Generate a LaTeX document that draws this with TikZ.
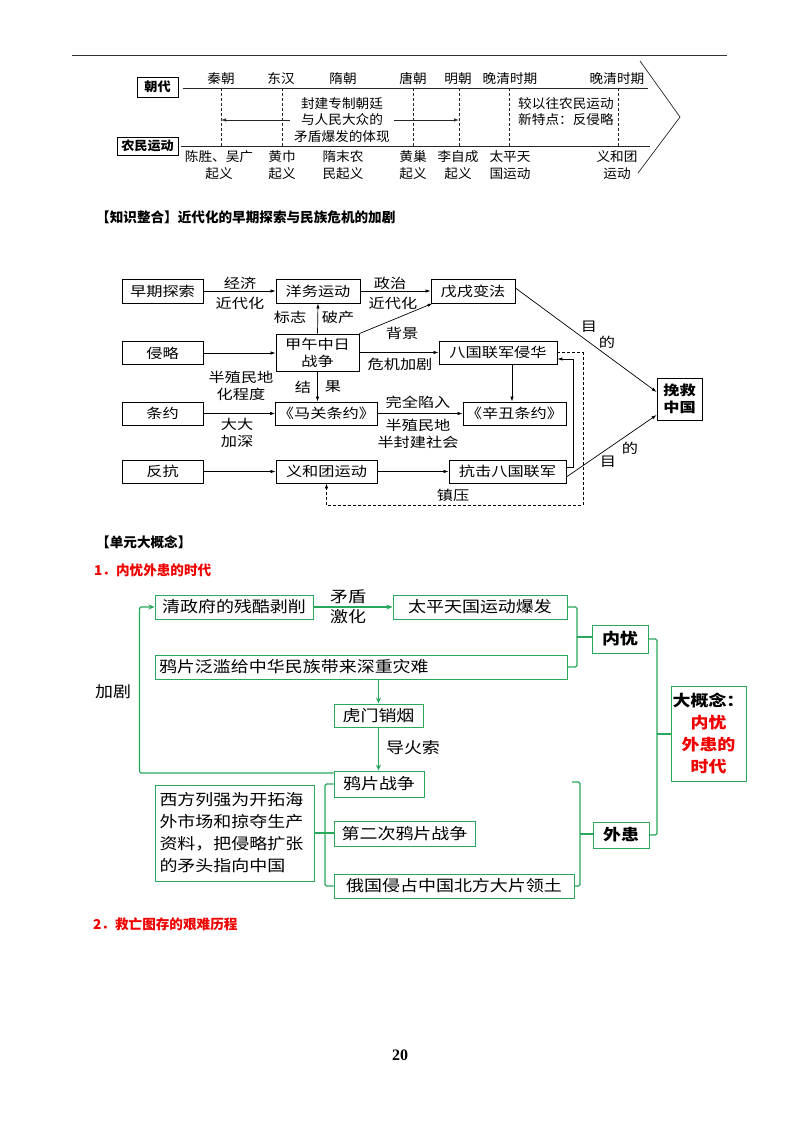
\documentclass[tikz,border=0pt]{standalone}
\usepackage{fontspec}
\setmainfont{Noto Sans CJK SC}
\newfontfamily\fa[FakeStretch=1.05]{Noto Sans CJK SC}
\newfontfamily\fb[FakeStretch=1.2]{Noto Sans CJK SC}
\newfontfamily\fc[FakeStretch=1.16]{Noto Sans CJK SC}
\newfontfamily\fnum{Liberation Serif}
\usetikzlibrary{arrows.meta,calc}
\definecolor{gr}{RGB}{40,168,90}
\definecolor{rd}{RGB}{240,0,0}
\begin{document}
\begin{tikzpicture}[x=1pt,y=-1pt,
  tl/.style={line width=0.7pt, black!85},
  dsh/.style={line width=0.6pt, black!85, dash pattern=on 3pt off 2pt},
  ta/.style={font=\fa\fontsize{13}{16.8}\selectfont, inner sep=0pt, align=center},
  tbox/.style={draw, line width=0.9pt, inner sep=0pt, font=\fa\bfseries\fontsize{12.5}{15}\selectfont},
  arrt/.style={-{Latex[length=5pt,width=3.4pt]}},
  mb/.style={draw, line width=0.8pt, inner sep=0pt, align=center, font=\fb\fontsize{13.5}{17}\selectfont},
  ml/.style={inner sep=0pt, align=center, font=\fb\fontsize{13.5}{17}\selectfont},
  ml2/.style={line width=0.7pt},
  hd/.style={anchor=west, inner sep=0pt, font=\bfseries\fontsize{13.6}{16}\selectfont},
  gb/.style={draw=gr, line width=1pt, inner sep=0pt, align=center, font=\fc\fontsize{15.5}{22}\selectfont},
  gl/.style={draw=gr, line width=1.3pt, rounded corners=1.5pt},
  garr/.style={gl, -{Stealth[length=6pt,width=5pt]}},
  glab/.style={inner sep=0pt, align=center, font=\fc\fontsize{15.5}{20}\selectfont}
]
\useasboundingbox (0,0) rectangle (800,1132);
\fill[white] (0,0) rectangle (800,1132);

% top rule
\coordinate (r0) at (72,56); \coordinate (r1) at (727,56);
\draw[line width=1pt, black!80] (r0) -- (r1);

% ---------------- timeline ----------------
\node[tbox, minimum width=41pt, minimum height=20pt] (cd) at (157.5,87) {朝代};
\node[tbox, minimum width=61pt, minimum height=18pt] (nm) at (147.5,146) {农民运动};
\coordinate (u0) at (183,88); \coordinate (u1) at (648,88);
\coordinate (l0) at (181,146); \coordinate (l1) at (650,146);
\draw[tl] (u0) -- (u1);
\draw[tl] (l0) -- (l1);
\coordinate (v1) at (640,61); \coordinate (v2) at (680,117); \coordinate (v3) at (638,173);
\draw[tl] (v1) -- (v2) -- (v3);
\foreach \x in {221,282,413,459,509,618} \draw[dsh] (\x,88) -- (\x,146);

\node[ta] (d1) at (221,79) {秦朝};
\node[ta] (d2) at (281,79) {东汉};
\node[ta] (d3) at (343,79) {隋朝};
\node[ta] (d4) at (413,79) {唐朝};
\node[ta] (d5) at (458,79) {明朝};
\node[ta] (d6) at (510,79) {晚清时期};
\node[ta] (d7) at (617,79) {晚清时期};

\coordinate (a0) at (221,120); \coordinate (a1) at (459,120);
\draw[tl, {Latex[length=5pt,width=3.4pt]}-{Latex[length=5pt,width=3.4pt]}] (a0) -- (a1);
\node[ta, fill=white, inner xsep=4pt] (mid) at (342,120) {封建专制朝廷\\与人民大众的\\矛盾爆发的体现};
\node[ta, align=left] (nt) at (566,111.5) {较以往农民运动\\新特点：反侵略};

\node[ta] (p1) at (219,165) {陈胜、吴广\\起义};
\node[ta] (p2) at (282,165) {黄巾\\起义};
\node[ta] (p3) at (343,165) {隋末农\\民起义};
\node[ta] (p4) at (413,165) {黄巢\\起义};
\node[ta] (p5) at (458,165) {李自成\\起义};
\node[ta] (p6) at (510,165) {太平天\\国运动};
\node[ta] (p7) at (617,165) {义和团\\运动};

% ---------------- heading 1 ----------------
\node[hd] (t1) at (96,217) {【知识整合】近代化的早期探索与民族危机的加剧};

% ---------------- middle diagram ----------------
\node[mb, minimum width=81pt, minimum height=24pt] (zq) at (162.5,291) {早期探索};
\node[mb, minimum width=84pt, minimum height=24pt] (yw) at (318,291) {洋务运动};
\node[mb, minimum width=84pt, minimum height=24pt] (wx) at (473,291) {戊戌变法};
\node[mb, minimum width=81pt, minimum height=23pt] (qr) at (162.5,353) {侵略};
\node[mb, minimum width=83pt, minimum height=37pt] (jw) at (317.5,352.5) {甲午中日\\战争};
\node[mb, minimum width=118pt, minimum height=23pt] (bg) at (498,352.5) {八国联军侵华};
\node[mb, minimum width=81pt, minimum height=23pt] (ty) at (162.5,413.5) {条约};
\node[mb, minimum width=102pt, minimum height=23pt] (mg) at (326.5,413.5) {《马关条约》};
\node[mb, minimum width=103pt, minimum height=23pt] (xc) at (514.5,413.5) {《辛丑条约》};
\node[mb, minimum width=81pt, minimum height=23pt] (fk) at (162.5,471.5) {反抗};
\node[mb, minimum width=101pt, minimum height=23pt] (yh) at (326.5,471.5) {义和团运动};
\node[mb, minimum width=117pt, minimum height=23pt] (kj) at (507.5,471.5) {抗击八国联军};
\node[mb, minimum width=45pt, minimum height=42pt, font=\fb\bfseries\fontsize{13.5}{17}\selectfont] (wj) at (679.5,399) {挽救\\中国};

\draw[ml2, arrt] (zq.east) -- (yw.west);
\draw[ml2, arrt] (yw.east) -- (wx.west);
\draw[ml2, arrt] (qr.east) -- (qr.east -| jw.west);
\draw[ml2, arrt] (jw.north) -- (yw.south);
\draw[ml2, arrt] (jw.north east) -- ([xshift=2pt]wx.south west);
\draw[ml2, arrt] (jw.east) -- (jw.east -| bg.west);
\draw[ml2, arrt] (jw.south) -- (jw.south |- mg.north);
\draw[ml2, arrt] (ty.east) -- (mg.west);
\draw[ml2, arrt] (mg.east) -- (xc.west);
\draw[ml2, arrt] ([xshift=14pt]bg.south) -- ([xshift=14pt]bg.south |- xc.north);
\draw[ml2, arrt] (fk.east) -- (yh.west);
\draw[ml2, arrt] (yh.east) -- (kj.west);
\draw[ml2, arrt] ([yshift=4.5pt]kj.east) -- ++(7,0) |- ([yshift=-6.5pt]bg.east);
\draw[ml2, arrt, dash pattern=on 3pt off 2pt] (bg.east) -| (583,505) -| (yh.south);
\draw[ml2, arrt] ([yshift=-5.5pt]kj.east) -- ([yshift=-16pt]wj.west);
\draw[ml2, arrt] ([yshift=3pt]wx.east) -- ([yshift=7pt]wj.west);

\node[ml] (la1) at (240,283) {经济};
\node[ml] (la2) at (240,303) {近代化};
\node[ml] (la3) at (390,283) {政治};
\node[ml] (la4) at (393,303) {近代化};
\node[ml] (la5) at (290,317) {标志};
\node[ml] (la6) at (338,317) {破产};
\node[ml] (la7) at (402,333) {背景};
\node[ml] (la8) at (400,364) {危机加剧};
\node[ml] (la9) at (303,387) {结};
\node[ml] (la10) at (333,387) {果};
\node[ml] (la11) at (241,386) {半殖民地\\化程度};
\node[ml] (la12) at (237,433) {大大\\加深};
\node[ml] (la13) at (418,402) {完全陷入};
\node[ml] (la14) at (418,433.5) {半殖民地\\半封建社会};
\node[ml] (la15) at (589,327) {目};
\node[ml] (la16) at (607,342) {的};
\node[ml] (la17) at (630,448) {的};
\node[ml] (la18) at (608,462) {目};
\node[ml] (la19) at (453,495) {镇压};

% ---------------- heading 2 ----------------
\node[hd] (t2) at (96,542) {【单元大概念】};
\node[hd, text=rd] (t3) at (94,570) {1．内忧外患的时代};

% ---------------- bottom diagram ----------------
\node[gb, minimum width=158pt, minimum height=24pt] (qz) at (234,607) {清政府的残酷剥削};
\node[gb, minimum width=174pt, minimum height=24pt] (tp) at (480,607) {太平天国运动爆发};
\node[gb, minimum width=412pt, minimum height=24pt, text width=404pt, align=left] (yp) at (361,667) {鸦片泛滥给中华民族带来深重灾难};
\node[gb, minimum width=89pt, minimum height=23pt] (hm) at (378.5,715.5) {虎门销烟};
\node[gb, minimum width=90pt, minimum height=26pt] (yz) at (379,784) {鸦片战争};
\node[gb, minimum width=159pt, minimum height=96pt, text width=150pt, align=left] (xf) at (234.5,833) {西方列强为开拓海\\外市场和掠夺生产\\资料，把侵略扩张\\的矛头指向中国};
\node[gb, minimum width=141pt, minimum height=25pt] (de) at (404.5,834) {第二次鸦片战争};
\node[gb, minimum width=240pt, minimum height=24pt] (eg) at (454,886) {俄国侵占中国北方大片领土};
\node[gb, minimum width=56pt, minimum height=28pt, font=\fc\bfseries\fontsize{15.5}{22}\selectfont] (ny) at (620,639) {内忧};
\node[gb, minimum width=56pt, minimum height=26pt, font=\fc\bfseries\fontsize{15.5}{22}\selectfont] (wh) at (621,835) {外患};
\node[gb, minimum width=75pt, minimum height=95pt, font=\fc\bfseries\fontsize{15.5}{22}\selectfont] (dg) at (708.5,733.5) {大概念：\\\textcolor{rd}{内忧}\\\textcolor{rd}{外患的}\\\textcolor{rd}{时代}};

\draw[garr] ([yshift=11pt]yz.west) -- ++(-194,0) |- (qz.west);
\node[glab] (jj) at (113,692) {加剧};
\draw[garr] (qz.east) -- (tp.west);
\node[glab] (mdl) at (348,597) {矛盾};
\node[glab] (jhl) at (348,617) {激化};
\draw[garr] (yp.south -| hm.north) -- (hm.north);
\draw[garr] (hm.south) -- (hm.south |- yz.north);
\node[glab] (dhs) at (413,748) {导火索};

\coordinate (b1) at (577,637);
\draw[gl] (tp.east) -| (b1) |- (yp.east);
\draw[gl] (b1) -- (b1 -| ny.west);

\coordinate (b2) at (325,834);
\draw[gl] (yz.west) -| (b2) |- (eg.west);
\draw[gl] (xf.east) -- (xf.east -| de.west);

\coordinate (rt) at (572,782);
\coordinate (b3) at (580,834);
\draw[gl] (rt) -| (b3) |- (eg.east);
\draw[gl] (b3) -- (b3 -| wh.west);

\coordinate (b4) at (657,734);
\draw[gl] (ny.east) -| (b4) |- (wh.east);
\draw[gl] (b4) -- (b4 -| dg.west);

% ---------------- heading 3 ----------------
\node[hd, text=rd] (t4) at (93,924) {2．救亡图存的艰难历程};

% page number
\node[inner sep=0pt, font=\fnum\bfseries\fontsize{16}{18}\selectfont] (pg) at (400,1055) {20};
\end{tikzpicture}
\end{document}
